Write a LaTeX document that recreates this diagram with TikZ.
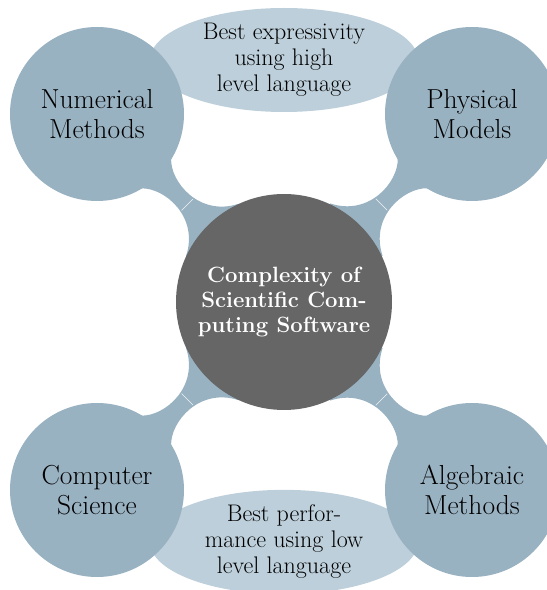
\documentclass[tikz,border=0pt]{standalone}
\usetikzlibrary{calc,shapes.geometric,backgrounds}
\definecolor{childc}{RGB}{153,178,194}
\definecolor{ellc}{RGB}{189,207,218}
\definecolor{rootc}{RGB}{102,102,102}
% #1 child node, #2 root node
\newcommand\mmbar[2]{%
  \fill[barfill]
    ($(#1)!84pt!(#2)!21pt!90:(#2)$)
    .. controls ($(#1)!100pt!(#2)!4pt!90:(#2)$) and ($(#1)!145pt!(#2)!0.1pt!90:(#2)$)
    .. ($(#1)!163.5pt!(#2)!37pt!90:(#2)$)
    -- (#2.center)
    -- ($(#1)!163.5pt!(#2)!37pt!-90:(#2)$)
    .. controls ($(#1)!145pt!(#2)!0.1pt!-90:(#2)$) and ($(#1)!100pt!(#2)!4pt!-90:(#2)$)
    .. ($(#1)!84pt!(#2)!21pt!-90:(#2)$)
    -- (#1.center) -- cycle;
  \draw[seam] ($(#1)!128pt!(#2)!8pt!90:(#2)$) -- ($(#1)!128pt!(#2)!8pt!-90:(#2)$);
}
\begin{document}
\begin{tikzpicture}[x=1pt,y=1pt,
  childnode/.style={circle, fill=childc, minimum size=174pt, inner sep=0pt,
    align=center, text=black, font=\fontsize{27.5}{29.5}\selectfont},
  rootnode/.style={circle, fill=rootc, minimum size=216pt, inner sep=0pt,
    align=center, text=white, font=\fontsize{22.1}{25}\selectfont\bfseries},
  ellnode/.style={ellipse, fill=ellc, inner sep=0pt, minimum width=268pt,
    align=center, text=black, font=\fontsize{24}{26}\selectfont},
  barfill/.style={fill=childc, draw=none},
  seam/.style={draw=white!85!childc, line width=0.5pt}
]
\useasboundingbox (0,0) rectangle (547,590);
\clip (0,0) rectangle (547,590);
\node[ellnode, minimum height=104pt] (top) at (284,530) {Best expressivity\\using high\\level language};
\node[ellnode, minimum height=100pt] (bot) at (284,48) {Best perfor-\\mance using low\\level language};
\node[rootnode] (root) at (284,288) {Complexity of\\Scientific Com-\\puting Software};
\node[childnode] (nm) at (97,476) {Numerical\\Methods};
\node[childnode] (pm) at (472,476) {Physical\\Models};
\node[childnode] (cs) at (97,100) {Computer\\Science};
\node[childnode] (am) at (472,100) {Algebraic\\Methods};
\begin{scope}[on background layer]
\mmbar{nm}{root}
\mmbar{pm}{root}
\mmbar{cs}{root}
\mmbar{am}{root}
\end{scope}
\end{tikzpicture}
\end{document}
